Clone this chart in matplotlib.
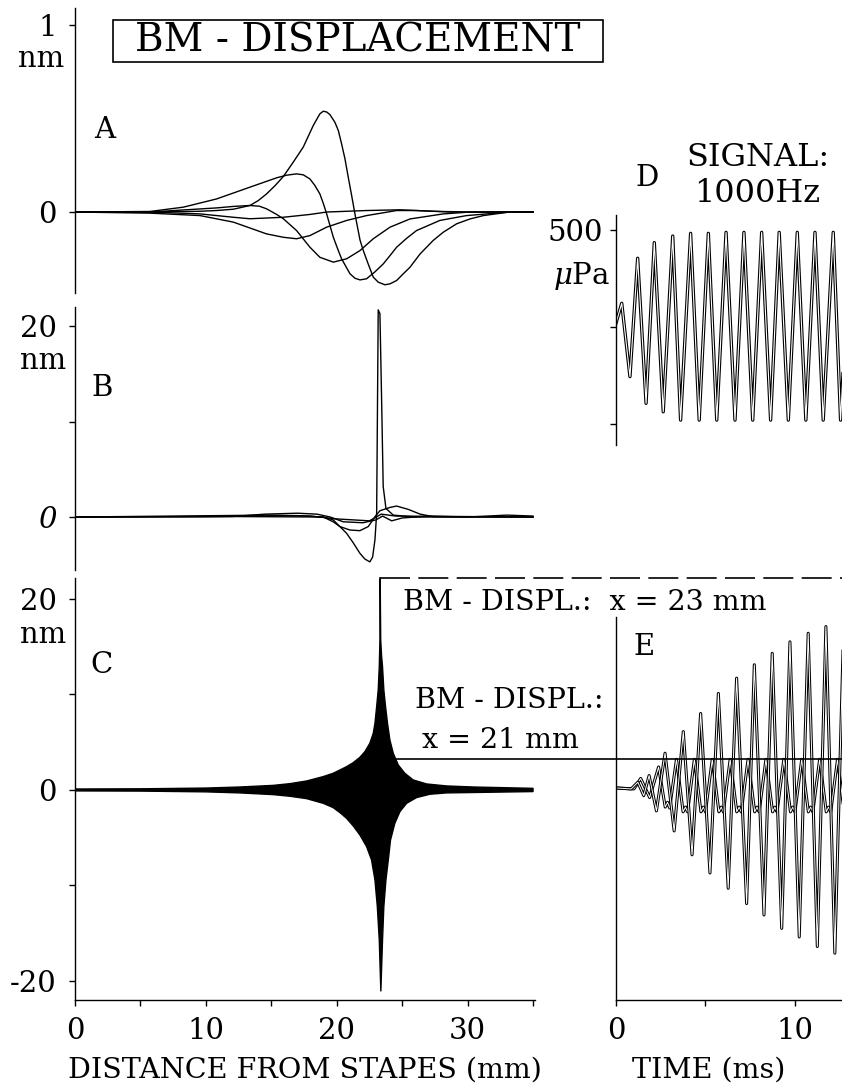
import matplotlib
matplotlib.use("Agg")
import matplotlib.pyplot as plt
import matplotlib.transforms as mtransforms
from matplotlib.lines import Line2D
from matplotlib.patches import Rectangle

plt.rcParams["font.family"] = ["DejaVu Serif"]
plt.rcParams["mathtext.fontset"] = "dejavuserif"

# ---------------- data ----------------
# Panel A: BM displacement snapshots (nm) vs distance from stapes (mm)
a1_x = [0, 5.7, 9.5, 10.8, 12.1, 13.37, 14.0, 14.64, 15.3, 15.92, 16.68, 17.44, 18.21, 18.71, 18.97, 19.23, 19.48, 19.86, 20.12, 20.37, 20.63, 20.88, 21.14, 21.39, 21.78, 22.03, 22.4, 22.79, 23.17, 23.68, 24.07, 24.58, 25.09, 25.6, 26.37, 27.37, 28.14, 29.16, 30.18, 31.2, 33.2, 35]
a1_y = [0, 0, 0.004, 0.008, 0.015, 0.035, 0.061, 0.097, 0.142, 0.19, 0.267, 0.347, 0.463, 0.525, 0.539, 0.535, 0.521, 0.48, 0.436, 0.365, 0.284, 0.186, 0.088, -0.01, -0.15, -0.206, -0.277, -0.348, -0.375, -0.389, -0.384, -0.366, -0.33, -0.295, -0.224, -0.152, -0.108, -0.063, -0.037, -0.019, 0, 0]
a2_x = [0, 5.73, 8.28, 10.82, 13.37, 15.41, 16.17, 16.93, 17.44, 17.95, 18.33, 18.71, 18.97, 19.23, 19.74, 20.12, 20.37, 21.01, 21.39, 21.78, 22.28, 22.92, 23.56, 24.07, 24.58, 25.35, 26.1, 27.88, 29.92, 33.2, 35]
a2_y = [0, 0.003, 0.026, 0.07, 0.133, 0.183, 0.197, 0.204, 0.199, 0.177, 0.142, 0.097, 0.047, -0.01, -0.135, -0.206, -0.25, -0.33, -0.354, -0.363, -0.357, -0.32, -0.277, -0.233, -0.188, -0.14, -0.099, -0.045, -0.019, 0, 0]
a3_x = [0, 5.73, 10.82, 12.1, 13.37, 14.1, 14.64, 15.41, 15.92, 16.93, 17.95, 18.71, 19.74, 20.76, 21.78, 22.79, 24.07, 25.6, 28.14, 30.2, 35]
a3_y = [0, 0, 0.022, 0.03, 0.035, 0.031, 0.017, -0.013, -0.036, -0.099, -0.188, -0.242, -0.268, -0.25, -0.206, -0.143, -0.081, -0.037, -0.01, 0, 0]
a4_x = [0, 5.73, 9.55, 12.1, 14.64, 15.92, 16.93, 17.95, 19.23, 20.76, 22.28, 24.58, 26.1, 28.65, 35]
a4_y = [0, -0.006, -0.019, -0.054, -0.117, -0.135, -0.143, -0.126, -0.081, -0.045, -0.019, 0.008, 0.008, 0, 0]
a5_x = [0, 5.73, 9.55, 12.1, 13.37, 15.92, 17.95, 19.23, 22.28, 24.83, 27.37, 30, 35]
a5_y = [0, 0, -0.01, -0.028, -0.036, -0.028, -0.013, 0, 0.008, 0.012, 0.004, 0, 0]

# Panel B: snapshots (nm)
b1_x = [0, 10, 17, 18.97, 19.73, 20.75, 21.26, 21.77, 22.15, 22.53, 22.74, 22.92, 23.05, 23.17, 23.3, 23.43, 23.55, 23.76, 24.32, 26, 35]
b1_y = [0, 0.05, 0.15, 0.0, -0.3, -1.7, -2.7, -3.8, -4.4, -4.7, -4.2, -2.4, 0.4, 21.7, 21.3, 12.2, 3.2, 0.9, 0.2, 0.0, 0.0]
b2_x = [0, 12, 18.97, 19.73, 20.24, 21.0, 21.77, 22.41, 22.92, 23.3, 24.06, 24.57, 25.47, 26.36, 27.38, 35]
b2_y = [0, 0.05, 0, -0.5, -1.0, -1.36, -1.43, -1.0, 0.03, 0.66, 1.0, 1.15, 0.8, 0.31, 0.03, 0]
b3_x = [0, 12, 14.5, 17, 18.5, 19.5, 20.5, 22, 23, 23.5, 24.2, 25, 27, 30, 33, 35]
b3_y = [0, 0.05, 0.3, 0.4, 0.3, 0, -0.5, -0.6, -0.3, 0.1, -0.4, -0.1, 0.1, 0.0, 0.2, 0.1]
b4_x = [0, 15, 18, 20, 22.5, 23.4, 24.5, 35]
b4_y = [0, 0.2, 0.1, -0.2, -0.4, 0.3, 0.1, 0]

# Panel C: envelope of the 1000 Hz response along the BM (nm)
c_up_x = [0, 5, 10, 12.6, 15.15, 16.42, 17.7, 18.97, 19.73, 20.24, 20.75, 21.26, 21.77, 22.15, 22.53, 22.79, 22.92, 23.05, 23.17, 23.25, 23.3, 23.32, 23.36, 23.43, 23.5, 23.6, 23.73, 23.88, 24.06, 24.32, 24.7, 25.2, 25.84, 26.86, 28.39, 30.43, 35.0]
c_up_y = [0.1, 0.12, 0.2, 0.31, 0.48, 0.66, 0.94, 1.40, 1.75, 2.09, 2.44, 2.86, 3.42, 4.01, 4.89, 5.93, 6.98, 8.73, 10.47, 12.9, 15.7, 22.1, 15.7, 14.0, 12.9, 10.47, 8.73, 6.98, 5.24, 3.84, 2.62, 1.75, 1.05, 0.63, 0.42, 0.31, 0.17]
c_lo_x = [0, 5, 10, 12.6, 15.15, 16.42, 17.7, 18.97, 19.73, 20.24, 20.75, 21.26, 21.77, 22.28, 22.66, 22.92, 23.1, 23.25, 23.37, 23.5, 23.6, 23.76, 23.94, 24.11, 24.44, 24.83, 25.34, 26.1, 27.12, 28.39, 35.0]
c_lo_y = [-0.1, -0.12, -0.2, -0.31, -0.49, -0.66, -0.91, -1.40, -1.85, -2.37, -2.97, -3.77, -4.71, -5.93, -7.33, -9.42, -12.2, -15.7, -21.1, -15.7, -12.2, -9.42, -7.33, -5.24, -3.49, -2.27, -1.40, -0.80, -0.45, -0.31, -0.17]

# Panel D: stimulus, sound pressure (uPa) vs time (ms)
d_t = [0, 0.32, 0.78, 1.21, 1.68, 2.14, 2.64, 3.17, 3.61, 4.17, 4.65, 5.16, 5.63, 6.15, 6.65, 7.15, 7.64, 8.14, 8.64, 9.12, 9.63, 10.13, 10.61, 11.12, 11.58, 12.14, 12.55, 13.1]
d_p = [20, 123, -257, 356, -395, 437, -439, 471, -482, 485, -482, 485, -482, 490, -482, 490, -482, 490, -482, 490, -482, 490, -482, 490, -482, 490, -482, 490]

# Panel E: BM displacement (nm) vs time (ms) at x = 23 mm and x = 21 mm
e23_t = [0, 0.85, 1.22, 1.55, 1.85, 2.26, 2.74, 3.25, 3.76, 4.25, 4.73, 5.25, 5.72, 6.27, 6.74, 7.30, 7.73, 8.27, 8.73, 9.26, 9.72, 10.24, 10.74, 11.25, 11.73, 12.23, 12.73]
e23_v = [0.2, 0.1, 0.8, -0.6, 1.5, -2.2, 3.84, -4.3, 6.1, -6.8, 8.0, -8.7, 10.1, -10.3, 11.7, -11.9, 13.1, -13.1, 14.3, -14.5, 15.5, -15.4, 16.4, -16.4, 17.1, -17.1, 17.6]
e21_t = [0, 1.0, 1.38, 1.88, 2.38, 2.75, 2.88, 3.0, 3.38, 3.75, 3.88, 4.0, 4.38, 4.75, 4.88, 5.0,
         5.38, 5.75, 5.88, 6.0, 6.38, 6.75, 6.88, 7.0, 7.38, 7.75, 7.88, 8.0, 8.38, 8.75, 8.88, 9.0,
         9.38, 9.75, 9.88, 10.0, 10.38, 10.75, 10.88, 11.0, 11.38, 11.75, 11.88, 12.0, 12.38, 12.75]
e21_v = [0.2, 0.1, 1.2, -0.8, 2.4, -1.8, -1.3, -1.9, 3.2, -2.3, -1.8, -2.3, 3.2, -2.3, -1.8, -2.3,
         3.2, -2.3, -1.8, -2.3, 3.2, -2.3, -1.8, -2.3, 3.2, -2.3, -1.8, -2.3, 3.2, -2.3, -1.8, -2.3,
         3.2, -2.3, -1.8, -2.3, 3.2, -2.3, -1.8, -2.3, 3.2, -2.3, -1.8, -2.3, 3.2, -2.3]

# tick labels
dist_ticks = [0, 5, 10, 15, 20, 25, 30, 35]
dist_labels = ["0", "", "10", "", "20", "", "30", ""]
time_ticks = [0, 5, 10]
time_labels = ["0", "", "10"]

# ---------------- layout ----------------
W, H = 842, 1091
fig = plt.figure(figsize=(W / 100, H / 100), dpi=100)


def rect(x0, y0, x1, y1):
    return [x0 / W, 1 - y1 / H, (x1 - x0) / W, (y1 - y0) / H]


def ftext(x, y, s, **kw):
    return fig.text(x / W, 1 - y / H, s, **kw)


FS = 21
LW = 1.0


def style(ax, bottom=False):
    for s in ["top", "right"]:
        ax.spines[s].set_visible(False)
    ax.spines["bottom"].set_visible(bottom)
    ax.spines["left"].set_linewidth(LW)
    ax.spines["bottom"].set_linewidth(LW)
    ax.tick_params(axis="y", direction="out", length=4, width=LW, pad=9, labelsize=FS)
    ax.tick_params(axis="x", direction="out", length=4, width=LW, pad=8, labelsize=FS,
                   bottom=bottom, labelbottom=bottom)
    ax.patch.set_alpha(0)


axA = fig.add_axes(rect(75, 8, 535, 293))
axB = fig.add_axes(rect(75, 307, 535, 570))
axC = fig.add_axes(rect(75, 578, 535, 1000))
axD = fig.add_axes(rect(616, 215, 842, 445))
axE = fig.add_axes(rect(616, 617, 842, 1000))

# Panel A
for xs, ys in [(a1_x, a1_y), (a2_x, a2_y), (a3_x, a3_y), (a4_x, a4_y), (a5_x, a5_y)]:
    axA.plot(xs, ys, color="black", lw=1.0, solid_joinstyle="round")
axA.set_xlim(0, 35.15)
axA.set_ylim(-0.433, 1.091)
style(axA)
axA.set_yticks([0, 1])
axA.set_yticklabels(["0", "1"])

# Panel B
for xs, ys in [(b3_x, b3_y), (b4_x, b4_y), (b2_x, b2_y), (b1_x, b1_y)]:
    axB.plot(xs, ys, color="black", lw=1.0, solid_joinstyle="round")
axB.set_xlim(0, 35.15)
axB.set_ylim(-5.55, 22.0)
style(axB)
axB.set_yticks([0, 10, 20])
axB.set_yticklabels(["0", "", "20"])
axB.get_yticklabels()[0].set_style("italic")

# Panel C
axC.fill(c_up_x + c_lo_x[::-1], c_up_y + c_lo_y[::-1], facecolor="black",
         edgecolor="black", lw=1.0)
axC.set_xlim(0, 35.15)
axC.set_ylim(-22.0, 22.2)
style(axC, bottom=True)
axC.set_yticks([-20, -10, 0, 10, 20])
axC.set_yticklabels(["-20", "", "0", "", "20"])
axC.set_xticks(dist_ticks)
axC.set_xticklabels(dist_labels)

# Panel D (double-stroke trace as in the scanned original)
axD.plot(d_t, d_p, color="black", lw=2.4, solid_joinstyle="round")
axD.plot(d_t, d_p, color="white", lw=0.8, solid_joinstyle="round")
axD.set_xlim(0, 12.63)
axD.set_ylim(-611, 580)
style(axD)
axD.set_yticks([-500, 0, 500])
axD.set_yticklabels(["", "", "500"])
axD.tick_params(axis="y", pad=5)

# Panel E
for ts, vs in [(e21_t, e21_v), (e23_t, e23_v)]:
    axE.plot(ts, vs, color="black", lw=2.2, solid_joinstyle="round")
    axE.plot(ts, vs, color="white", lw=0.7, solid_joinstyle="round")
axE.set_xlim(0, 12.63)
axE.set_ylim(-22.0, 18.1)
style(axE, bottom=True)
axE.set_yticks([])
axE.set_xticks(time_ticks)
axE.set_xticklabels(time_labels)

# ---------------- annotations ----------------
fig.patches.append(Rectangle((113 / W, 1 - 62 / H), 490 / W, 42 / H, transform=fig.transFigure,
                             fill=False, edgecolor="black", lw=1.2))
ftext(358, 41, "BM - DISPLACEMENT", fontsize=28, ha="center", va="center")

ftext(64, 59, "nm", fontsize=FS, ha="right", va="center")
ftext(66, 361, "nm", fontsize=FS, ha="right", va="center")
ftext(66, 635, "nm", fontsize=FS, ha="right", va="center")

ftext(105, 130, "A", fontsize=FS, ha="center", va="center")
ftext(102, 388, "B", fontsize=FS, ha="center", va="center")
ftext(102, 665, "C", fontsize=FS, ha="center", va="center")
ftext(647, 178, "D", fontsize=FS, ha="center", va="center")
ftext(644, 647, "E", fontsize=FS, ha="center", va="center")

ftext(758, 158, "SIGNAL:", fontsize=23, ha="center", va="center")
ftext(757, 193, "1000Hz", fontsize=23, ha="center", va="center")
ftext(610, 276, r"$\mu$Pa", fontsize=FS, ha="right", va="center")

ftext(403, 603, "BM - DISPL.:  x = 23 mm", fontsize=20.5, ha="left", va="center")
ftext(415, 700, "BM - DISPL.:", fontsize=20.5, ha="left", va="center")
ftext(422, 741, "x = 21 mm", fontsize=20.5, ha="left", va="center")

ftext(305, 1070, "DISTANCE FROM STAPES (mm)", fontsize=20.5, ha="center", va="center")
ftext(709, 1070, "TIME (ms)", fontsize=20.5, ha="center", va="center")

# connector lines between panel C and panel E
blend_top = mtransforms.blended_transform_factory(fig.transFigure, axC.transData)
x_spike = fig.transFigure.inverted().transform(axC.transData.transform((23.32, 0)))[0]
x_21 = fig.transFigure.inverted().transform(axC.transData.transform((22.3, 0)))[0]
axC.plot([23.32, 23.32], [20.5, 22.2], color="black", lw=1.2, clip_on=False)
fig.add_artist(Line2D([x_spike, 1.0], [22.2, 22.2], transform=blend_top, color="black",
                      lw=1.2, dashes=(18, 5)))
fig.add_artist(Line2D([x_21, 1.0], [3.25, 3.25], transform=blend_top, color="black", lw=1.2))

fig.savefig("out.png", dpi=100)
